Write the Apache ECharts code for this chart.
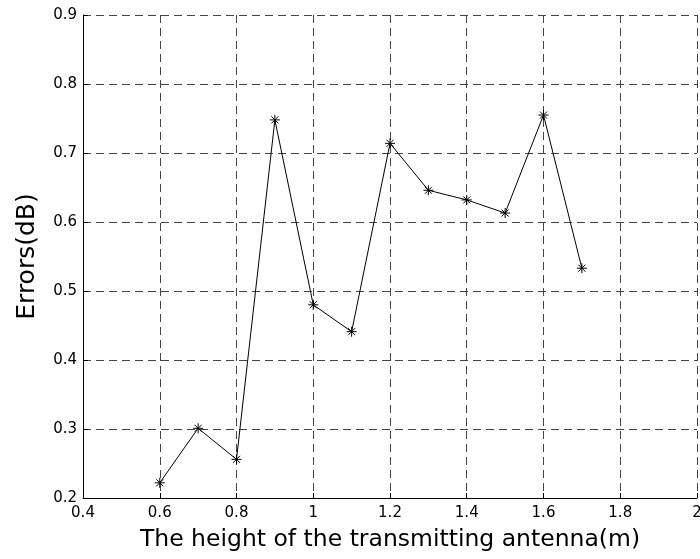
<!DOCTYPE html>
<html>
<head>
<meta charset="utf-8">
<script src="https://cdn.jsdelivr.net/npm/echarts@6/dist/echarts.min.js"></script>
<style>html,body{margin:0;padding:0;background:#fff}#c{width:700px;height:559px}</style>
</head>
<body>
<div id="c"></div>
<script>
var heights = [0.6, 0.7, 0.8, 0.9, 1.0, 1.1, 1.2, 1.3, 1.4, 1.5, 1.6, 1.7];
var errors = [0.222, 0.301, 0.256, 0.748, 0.480, 0.441, 0.714, 0.646, 0.632, 0.613, 0.755, 0.533];
var xTitle = 'The height of the transmitting antenna(m)';
var yTitle = 'Errors(dB)';

var chart = echarts.init(document.getElementById('c'), null, {renderer: 'canvas'});
var font = 'DejaVu Sans, Liberation Sans, Arial, sans-serif';
var asterisk = 'path://M0,-10L0,10M-10,0L10,0M-7,-7L7,7M-7,7L7,-7';
chart.setOption({
  animation: false,
  backgroundColor: '#fff',
  grid: {left: 83, top: 15, right: 3, bottom: 61, containLabel: false, outerBoundsMode: 'none'},
  xAxis: {
    type: 'value', min: 0.4, max: 2, interval: 0.2,
    name: xTitle, nameLocation: 'middle', nameGap: 30,
    nameTextStyle: {fontFamily: font, fontSize: 23.5, color: '#000'},
    axisLine: {show: true, onZero: false, lineStyle: {color: '#000', width: 1}},
    axisTick: {show: true, inside: true, length: 5, lineStyle: {color: '#000'}},
    axisLabel: {fontFamily: font, fontSize: 15, color: '#000', margin: 8,
      alignMinLabel: 'center', alignMaxLabel: 'center', hideOverlap: false},
    splitLine: {show: true, lineStyle: {color: '#444', type: [8, 5], width: 1}}
  },
  yAxis: {
    type: 'value', min: 0.2, max: 0.9, interval: 0.1,
    name: yTitle, nameLocation: 'middle', nameGap: 43,
    nameTextStyle: {fontFamily: font, fontSize: 25, color: '#000'},
    axisLine: {show: true, onZero: false, lineStyle: {color: '#000', width: 1}},
    axisTick: {show: true, inside: true, length: 5, lineStyle: {color: '#000'}},
    axisLabel: {fontFamily: font, fontSize: 15, color: '#000', margin: 6},
    splitLine: {show: true, lineStyle: {color: '#444', type: [8, 5], width: 1}}
  },
  series: [{
    type: 'line',
    data: heights.map(function (h, i) { return [h, errors[i]]; }),
    lineStyle: {color: '#000', width: 1},
    symbol: asterisk,
    symbolSize: 10,
    showAllSymbol: true,
    itemStyle: {color: 'transparent', borderColor: '#000', borderWidth: 1}
  }]
});
</script>
</body>
</html>
